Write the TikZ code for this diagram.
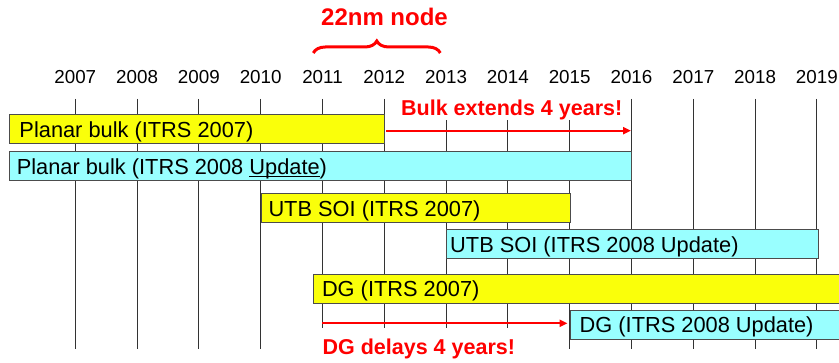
\documentclass[tikz,border=0pt]{standalone}
\usepackage{fontspec}
\setmainfont{Liberation Sans}
\usepackage{xcolor}
\usepackage{tikz}
\usetikzlibrary{arrows.meta}
\usetikzlibrary{decorations.pathreplacing}
\definecolor{oldplan}{RGB}{250,255,10}
\definecolor{newplan}{RGB}{153,255,255}
\newcommand{\updline}[1]{\setbox0\hbox{#1}\rlap{\rule[-2.5pt]{\wd0}{1.1pt}}\box0}

\begin{document}
\begin{tikzpicture}[x=1pt,y=-1pt]
\tikzstyle{yearlab}=[anchor=base, inner sep=0pt, font=\fontsize{18.8}{22}\selectfont]
\tikzstyle{yearline}=[draw=black!80, line width=0.9pt]
\tikzstyle{barbox}=[draw=black!70, line width=1pt]
\tikzstyle{barlab}=[anchor=base west, inner sep=0pt, font=\fontsize{21.8}{25}\selectfont]
\tikzstyle{rednote}=[anchor=base west, text=red, fill=white, inner xsep=2pt, inner ysep=0pt, font=\fontsize{21.5}{25}\selectfont\bfseries]
\tikzstyle{redarrow}=[red, line width=2pt, -{Triangle[length=8pt,width=7pt]}]
\clip (0,0) rectangle (839,363);
\fill[white] (0,0) rectangle (839,363);
\foreach \yr [count=\i from 0] in {2007,...,2019}
    {
    \node[yearlab] (y\yr) at ({75.3+61.8*\i},83.3) {\yr};
    \coordinate (t\yr) at ({75.3+61.8*\i},99);
    \coordinate (b\yr) at ({75.3+61.8*\i},349);
    \draw[yearline] (t\yr) -- (b\yr);
    }
\foreach \nm/\l/\r/\t/\c/\tx/\txt in {
    pb07/9.5/384.3/115/oldplan/19.3/Planar bulk (ITRS 2007),
    pb08/9.5/631.3/152/newplan/16.6/Planar bulk (ITRS 2008 \updline{Update}),
    utb07/261.2/570/194/oldplan/268.3/UTB SOI (ITRS 2007),
    utb08/446.7/818/230/newplan/450/UTB SOI (ITRS 2008 Update),
    dg07/313.3/850/274.5/oldplan/321.8/DG (ITRS 2007),
    dg08/570.7/850/310.5/newplan/579.5/DG (ITRS 2008 Update)}
    {
    \draw[barbox, fill=\c] (\l,\t) rectangle (\r,\t+29);
    \node[barlab] (\nm) at (\tx,\t+22.5) {\txt};
    }
% 22nm node
\node[anchor=base, text=red, inner sep=0pt, font=\fontsize{24}{28}\selectfont\bfseries] (node22) at (384.5,25.5) {22nm node};
\coordinate (br0) at (313.3,53);
\coordinate (br1) at (440.3,53);
\draw[red, line width=3pt, decorate, decoration={brace, amplitude=12pt}] (br0) -- (br1);
% shifts
\node[rednote, text height=17.5pt, text depth=4pt] (bulknote) at (399,116) {Bulk extends 4 years!};
\node[rednote, text height=26.3pt, text depth=6pt] (dgnote) at (320.4,354.3) {DG delays 4 years!};
\coordinate (bulk0) at (386,130.7);
\coordinate (bulk1) at (631,130.7);
\coordinate (dg0) at (322.3,323.3);
\coordinate (dg1) at (567.5,323.3);
\draw[redarrow] (bulk0) -- (bulk1);
\draw[redarrow] (dg0) -- (dg1);
\end{tikzpicture}
\end{document}
